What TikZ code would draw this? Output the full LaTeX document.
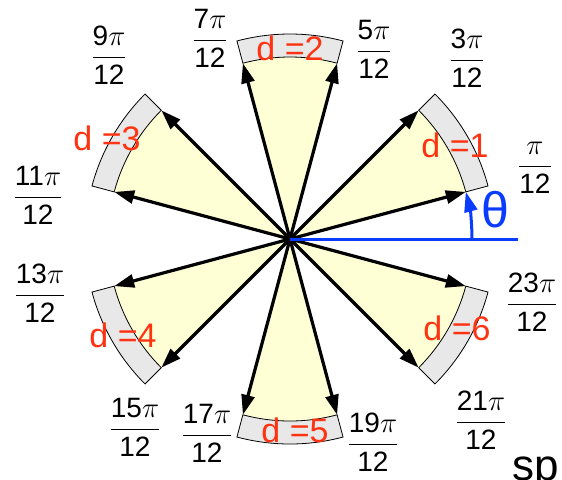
\documentclass[tikz,border=0pt]{standalone}
\usepackage{fontspec}
\setmainfont{Liberation Sans}
\usepackage{amsmath}
\usetikzlibrary{arrows.meta}
\definecolor{ink}{HTML}{000000}
\definecolor{sectorfill}{HTML}{FFFFD6}
\definecolor{bandfill}{HTML}{E8E8E8}
\definecolor{dred}{HTML}{FF3311}
\definecolor{thetablue}{HTML}{0A3CFF}
\newcommand{\anglefrac}[1]{$\dfrac{\text{#1}\pi\vphantom{p}}{\text{12}\vphantom{l}}$}
\tikzset{
  font=\fontsize{14}{17}\selectfont,
  >={Triangle[length=10pt, width=6.5pt]},
  %
  sector/.style={fill=sectorfill, draw=none},
  band/.style={draw=ink, line width=0.4pt, fill=bandfill},
  %
  vec/.style={draw=ink, line width=1.6pt, ->},
  axis/.style={draw=thetablue, line width=1.5pt},
  angarc/.style={axis, ->},
  %
  frac/.style={inner sep=1pt, text=ink},
  dlbl/.style={font=\fontsize{17}{20}\selectfont, text=dred, inner sep=1pt},
  thlbl/.style={font=\fontsize{25}{28}\selectfont, text=thetablue, inner sep=1pt},
}

\begin{document}
\begin{tikzpicture}[x=0.5pt, y=0.5pt]
\useasboundingbox (-290,-240) rectangle (272,239);
\clip (-290,-240) rectangle (272,239);
\coordinate (O) at (0,0);

% =========================================================================
% sectors d=1..6 with their outer bands
% =========================================================================
\foreach \k in {0,...,5}{
  \pgfmathsetmacro{\a}{15+60*\k}
  \pgfmathsetmacro{\b}{45+60*\k}
  \fill[sector] (O) -- (\a:182) arc[start angle=\a, end angle=\b, radius=182] -- cycle;
  \draw[band] (\a:182) -- (\a:205) arc[start angle=\a, end angle=\b, radius=205]
    -- (\b:182) arc[start angle=\b, end angle=\a, radius=182] -- cycle;
}

% direction vectors at the odd multiples of pi/12
\foreach \a [count=\i] in {15,45,...,345}{
  \coordinate (e\i) at (\a:182);
  \draw[vec] (O) -- (e\i);
}

% reference axis and the angle theta
\coordinate (xend) at (228,0);
\coordinate (a0) at (0:182);
\draw[axis] (O) -- (xend);
\draw[angarc] (a0) arc[start angle=0, end angle=15, radius=182];
\node[thlbl] (th) at (205,29) {θ};

% sector labels
\node[dlbl] (d1) at (165,94) {d =1};
\node[dlbl] (d2) at (0,191) {d =2};
\node[dlbl] (d3) at (-183,101) {d =3};
\node[dlbl] (d4) at (-167,-96) {d =4};
\node[dlbl] (d5) at (5,-191) {d =5};
\node[dlbl] (d6) at (167,-89) {d =6};

% angle labels
\node[frac] (f1)  at (245,71)    {\anglefrac{}};
\node[frac] (f3)  at (177,181)   {\anglefrac{3}};
\node[frac] (f5)  at (84,190)    {\anglefrac{5}};
\node[frac] (f7)  at (-80,201)   {\anglefrac{7}};
\node[frac] (f9)  at (-181,184)  {\anglefrac{9}};
\node[frac] (f11) at (-252,44)   {\anglefrac{11}};
\node[frac] (f13) at (-250,-54)  {\anglefrac{13}};
\node[frac] (f15) at (-155,-188) {\anglefrac{15}};
\node[frac] (f17) at (-83,-194)  {\anglefrac{17}};
\node[frac] (f19) at (83,-203)   {\anglefrac{19}};
\node[frac] (f21) at (191,-181)  {\anglefrac{21}};
\node[frac] (f23) at (242,-63)   {\anglefrac{23}};

\node[font=\fontsize{22}{26}\selectfont, anchor=base west, inner sep=0pt] (sp) at (222,-241) {sp};
\end{tikzpicture}
\end{document}
